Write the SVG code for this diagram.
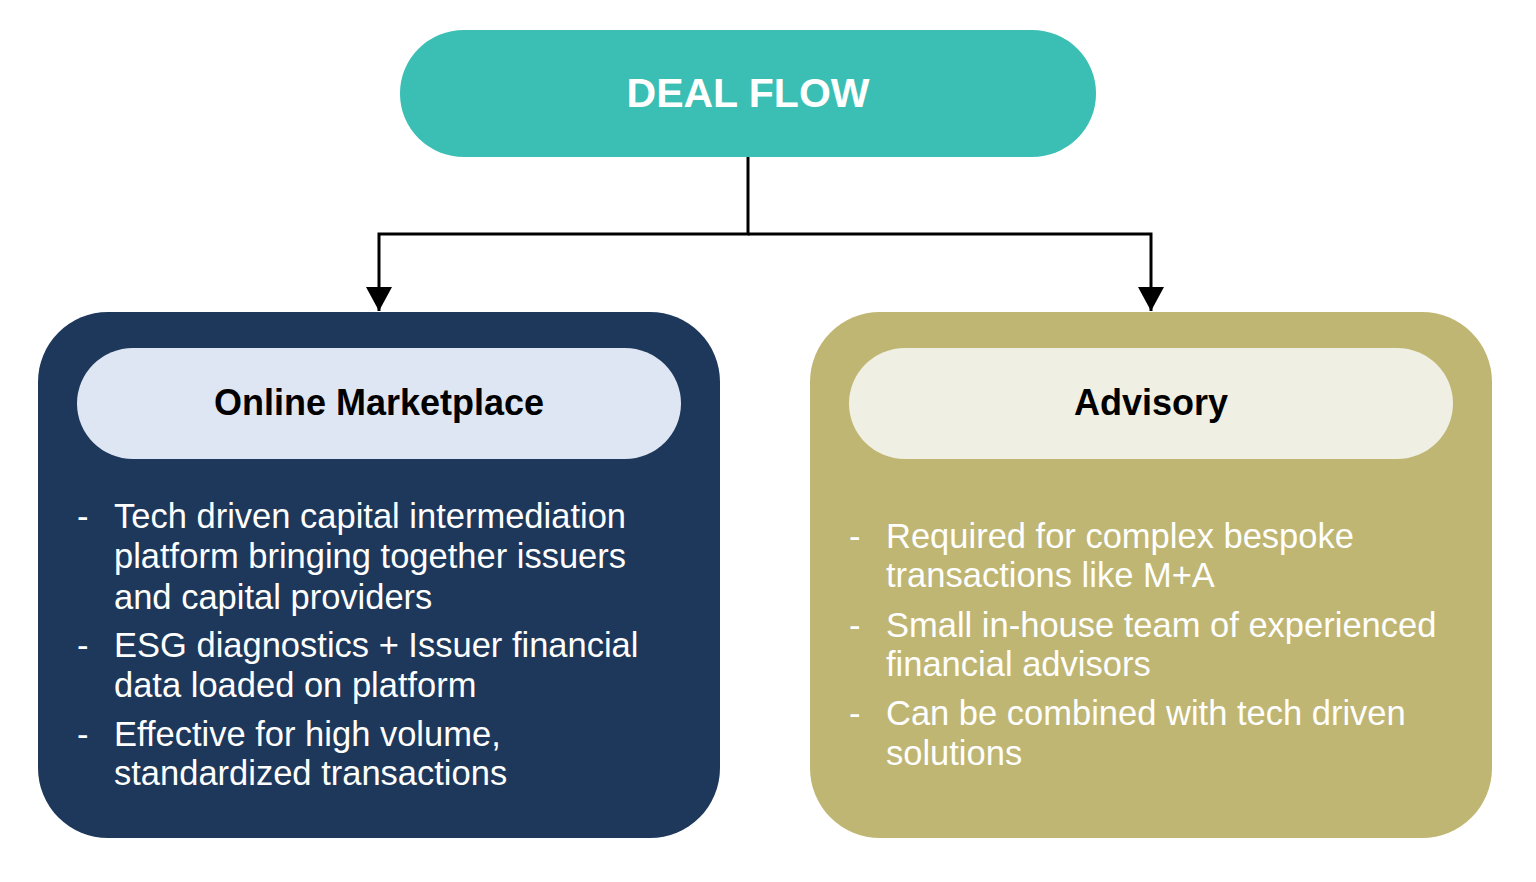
<svg xmlns="http://www.w3.org/2000/svg" width="1536" height="882" viewBox="0 0 1536 882">
<style>
.title{font-family:"Liberation Sans",Arial,sans-serif;font-weight:bold;text-anchor:middle}
.body{font-family:"Liberation Sans",Arial,sans-serif;font-size:34.5px;fill:#ffffff}
.conn{fill:none;stroke:#000000;stroke-width:3}
</style>
<defs>
<marker id="arrow" markerUnits="userSpaceOnUse" markerWidth="26" markerHeight="26" refX="24" refY="13" orient="auto">
<path d="M0,0 L24,13 L0,26 Z" fill="#000000"/>
</marker>
</defs>
<rect width="1536" height="882" fill="#ffffff"/>
<g id="connectors">
<path class="conn" d="M748,157 V234 H379 V311" marker-end="url(#arrow)"/>
<path class="conn" d="M748,234 H1151 V311" marker-end="url(#arrow)"/>
</g>
<g id="deal-flow">
<rect x="400" y="30" width="696" height="127" rx="64" ry="63" fill="#3bbfb4"/>
<text class="title" x="748" y="107" font-size="41" fill="#ffffff">DEAL FLOW</text>
</g>
<g id="online-marketplace">
<rect x="38" y="312" width="682" height="526" rx="70" ry="70" fill="#1e385b"/>
<rect x="77" y="348" width="604" height="111" rx="56" ry="56" fill="#dfe6f3"/>
<text class="title" x="379" y="415" font-size="36" fill="#000000">Online Marketplace</text>
<text class="body" x="77" y="528">-</text>
<text class="body" x="114" y="528">Tech driven capital intermediation</text>
<text class="body" x="114" y="568">platform bringing together issuers</text>
<text class="body" x="114" y="609">and capital providers</text>
<text class="body" x="77" y="657">-</text>
<text class="body" x="114" y="657">ESG diagnostics + Issuer financial</text>
<text class="body" x="114" y="697">data loaded on platform</text>
<text class="body" x="77" y="746">-</text>
<text class="body" x="114" y="746">Effective for high volume,</text>
<text class="body" x="114" y="785">standardized transactions</text>
</g>
<g id="advisory">
<rect x="810" y="312" width="682" height="526" rx="70" ry="70" fill="#c0b673"/>
<rect x="849" y="348" width="604" height="111" rx="56" ry="56" fill="#f0efe3"/>
<text class="title" x="1151" y="415" font-size="36" fill="#000000">Advisory</text>
<text class="body" x="849" y="548">-</text>
<text class="body" x="886" y="548">Required for complex bespoke</text>
<text class="body" x="886" y="587">transactions like M+A</text>
<text class="body" x="849" y="637">-</text>
<text class="body" x="886" y="637">Small in-house team of experienced</text>
<text class="body" x="886" y="676">financial advisors</text>
<text class="body" x="849" y="725">-</text>
<text class="body" x="886" y="725">Can be combined with tech driven</text>
<text class="body" x="886" y="765">solutions</text>
</g>
</svg>
